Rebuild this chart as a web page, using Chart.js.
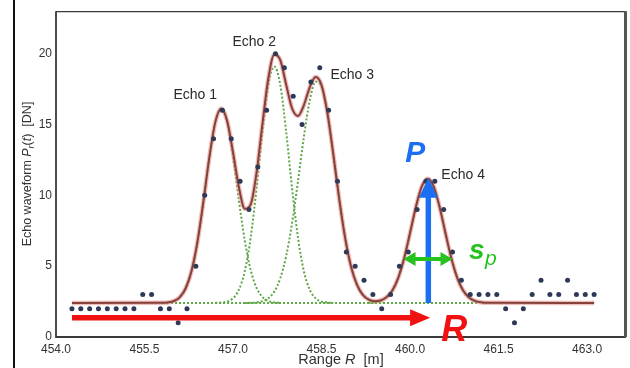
<!DOCTYPE html>
<html>
<head>
<meta charset="utf-8">
<script src="https://cdn.jsdelivr.net/npm/chart.js@4.4.1/dist/chart.umd.min.js"></script>
<style>
  html, body { margin: 0; padding: 0; background: #fff; }
  #wrap { width: 630px; height: 368px; }
</style>
</head>
<body>
<div id="wrap"><canvas id="echoChart" width="630" height="368"></canvas></div>
<script>
// sampled echo waveform (the dots), range in m and amplitude in DN
const sampleRange = [
  454.27, 454.42, 454.57, 454.72, 454.87, 455.02, 455.17, 455.32, 455.47, 455.62,
  455.77, 455.92, 456.07, 456.22, 456.37, 456.52, 456.67, 456.82, 456.97, 457.12,
  457.27, 457.42, 457.57, 457.72, 457.87, 458.02, 458.17, 458.32, 458.47, 458.62,
  458.77, 458.92, 459.07, 459.22, 459.37, 459.52, 459.67, 459.82, 459.97, 460.12,
  460.27, 460.42, 460.57, 460.72, 460.87, 461.02, 461.17, 461.32, 461.47, 461.62,
  461.77, 461.92, 462.07, 462.22, 462.37, 462.52, 462.67, 462.82, 462.97, 463.12
];
const sampleDN = [
  2, 2, 2, 2, 2, 2, 2, 2, 3, 3,
  2, 2, 1, 2, 5, 10, 14, 16, 14, 11,
  9, 12, 16, 20, 19, 17, 15, 18, 19, 16,
  11, 6, 5, 4, 3, 2, 3, 5, 6, 9,
  11, 11, 9, 6, 4, 3, 3, 3, 3, 2,
  1, 2, 3, 4, 3, 3, 4, 3, 3, 3
];

const fitRange = [
  454.27, 455.8, 455.9, 456.0, 456.1, 456.2, 456.3, 456.4, 456.5, 456.6,
  456.7, 456.8, 456.9, 457.0, 457.1, 457.2, 457.3, 457.4, 457.5, 457.6,
  457.7, 457.8, 457.9, 458.0, 458.1, 458.2, 458.3, 458.4, 458.5, 458.6,
  458.7, 458.8, 458.9, 459.0, 459.1, 459.2, 459.3, 459.4, 459.5, 459.6,
  459.7, 459.8, 459.9, 460.0, 460.1, 460.2, 460.3, 460.4, 460.5, 460.6,
  460.7, 460.8, 460.9, 461.0, 461.1, 461.2, 461.3, 463.12
];
const fitDN = [
  2.4, 2.41, 2.44, 2.54, 2.82, 3.46, 4.71, 6.79, 9.62, 12.71,
  15.17, 16.13, 15.26, 13.04, 10.56, 9.05, 9.36, 11.63, 15.08, 18.30,
  19.95, 19.56, 17.83, 16.15, 15.61, 16.36, 17.63, 18.35, 17.78, 15.80,
  12.88, 9.74, 7.00, 4.98, 3.70, 2.98, 2.64, 2.53, 2.58, 2.80,
  3.28, 4.18, 5.56, 7.34, 9.19, 10.63, 11.17, 10.63, 9.19, 7.34,
  5.56, 4.18, 3.28, 2.79, 2.55, 2.45, 2.41, 2.4
];
const echo1DN = [
  null, 2.41, 2.44, 2.54, 2.82, 3.46, 4.71, 6.79, 9.62, 12.71,
  15.16, 16.10, 15.16, 12.71, 9.62, 6.79, 4.71, 3.46, 2.82, 2.54,
  2.44, 2.41, null, null, null, null, null, null, null, null,
  null, null, null, null, null, null, null, null, null, null,
  null, null, null, null, null, null, null, null, null, null,
  null, null, null, null, null, null, null, null
];
const echo2DN = [
  null, null, null, null, null, null, null, null, null, null,
  2.41, 2.43, 2.50, 2.73, 3.34, 4.66, 7.04, 10.53, 14.53, 17.82,
  19.10, 17.82, 14.53, 10.53, 7.04, 4.66, 3.34, 2.73, 2.50, 2.43,
  2.41, null, null, null, null, null, null, null, null, null,
  null, null, null, null, null, null, null, null, null, null,
  null, null, null, null, null, null, null, null
];
const echo3DN = [
  null, null, null, null, null, null, null, null, null, null,
  null, null, null, null, null, 2.40, 2.41, 2.44, 2.53, 2.74,
  3.21, 4.13, 5.70, 8.02, 10.97, 14.10, 16.69, 18.02, 17.68, 15.77,
  12.87, 9.74, 7.00, 4.98, 3.70, 2.98, 2.63, 2.48, 2.43, 2.41,
  null, null, null, null, null, null, null, null, null, null,
  null, null, null, null, null, null, null, null
];
const echo4DN = [
  null, null, null, null, null, null, null, null, null, null,
  null, null, null, null, null, null, null, null, null, null,
  null, null, null, null, null, null, null, null, null, null,
  null, null, null, null, null, null, 2.41, 2.45, 2.55, 2.79,
  3.28, 4.18, 5.56, 7.34, 9.19, 10.63, 11.17, 10.63, 9.19, 7.34,
  5.56, 4.18, 3.28, 2.79, 2.55, 2.45, 2.41, null
];
// common baseline of the echo model
const baseRange = [455.95, 461.15];
const baseDN = [2.4, 2.4];

const xTicks = [454.0, 455.5, 457.0, 458.5, 460.0, 461.5, 463.0];
const yTicks = [0, 5, 10, 15, 20];
const echoNames = ["Echo 1", "Echo 2", "Echo 3", "Echo 4"];

const FONT = "'Liberation Sans', Arial, sans-serif";
Chart.defaults.font.family = FONT;

// label spots for the echo names, in data units (range, DN)
const echoLabelAt = [[456.36, 17.07], [457.36, 20.84], [459.02, 18.47], [460.90, 11.43]];

function toPoints(ys) {
    return fitRange.map((x, i) => ({ x: x, y: ys[i] })).filter(p => p.y !== null);
}

function echoSet(points) {
    return {
        data: points,
        showLine: true,
        pointRadius: 0,
        borderColor: "#5ea646",
        borderWidth: 2,
        borderDash: [2, 2],
        cubicInterpolationMode: "monotone",
        order: 4
    };
}

// draws a filled arrow from (x0,y0) to (x1,y1), optionally with a head at both ends
function arrow(ctx, x0, y0, x1, y1, w, hl, hw, color, both) {
    const len = Math.hypot(x1 - x0, y1 - y0);
    ctx.save();
    ctx.translate(x0, y0);
    ctx.rotate(Math.atan2(y1 - y0, x1 - x0));
    ctx.fillStyle = color;
    ctx.beginPath();
    const s = both ? hl : 0;
    ctx.moveTo(s, -w / 2);
    ctx.lineTo(len - hl, -w / 2);
    ctx.lineTo(len - hl, -hw);
    ctx.lineTo(len, 0);
    ctx.lineTo(len - hl, hw);
    ctx.lineTo(len - hl, w / 2);
    ctx.lineTo(s, w / 2);
    if (both) {
        ctx.lineTo(s, hw);
        ctx.lineTo(0, 0);
        ctx.lineTo(s, -hw);
    }
    ctx.closePath();
    ctx.fill();
    ctx.restore();
}

// draws a run of text pieces [text, font, dy] starting at x
function runText(ctx, parts, x, y) {
    parts.forEach(p => {
        ctx.font = p[1];
        ctx.fillText(p[0], x, y + (p[2] || 0));
        x += ctx.measureText(p[0]).width;
    });
}
function runWidth(ctx, parts) {
    let w = 0;
    parts.forEach(p => { ctx.font = p[1]; w += ctx.measureText(p[0]).width; });
    return w;
}

const annotate = {
    id: "annotate",
    beforeDraw(chart) {
        const ctx = chart.ctx;
        ctx.save();
        ctx.fillStyle = "#fff";
        ctx.fillRect(0, 0, chart.width, chart.height);
        ctx.fillStyle = "#111";
        ctx.fillRect(13, 0, 2, chart.height);
        ctx.restore();
    },
    afterDatasetsDraw(chart) {
        const ctx = chart.ctx;
        const a = chart.chartArea;
        const xs = chart.scales.x, ys = chart.scales.y;
        const px = v => xs.getPixelForValue(v), py = v => ys.getPixelForValue(v);

        // plot frame
        ctx.save();
        ctx.strokeStyle = "#3a3a3a";
        ctx.lineWidth = 1.2;
        ctx.beginPath(); ctx.moveTo(a.left, a.top + 0.5); ctx.lineTo(a.right, a.top + 0.5); ctx.stroke();
        ctx.lineWidth = 1.8;
        ctx.beginPath(); ctx.moveTo(a.left, a.top); ctx.lineTo(a.left, a.bottom); ctx.lineTo(a.right, a.bottom); ctx.stroke();
        ctx.strokeStyle = "#555";
        ctx.lineWidth = 3;
        ctx.beginPath(); ctx.moveTo(a.right - 0.5, a.top); ctx.lineTo(a.right - 0.5, a.bottom); ctx.stroke();

        // echo names
        ctx.fillStyle = "#2a2a2a";
        ctx.font = "14px " + FONT;
        ctx.textAlign = "center";
        ctx.textBaseline = "middle";
        echoNames.forEach((n, i) => ctx.fillText(n, px(echoLabelAt[i][0]), py(echoLabelAt[i][1])));

        // R, P and s_p arrows
        arrow(ctx, px(454.27), py(1.36), px(460.34), py(1.36), 5.5, 20, 8.5, "#f21111", false);
        arrow(ctx, px(460.31), py(2.4), px(460.31), py(11.25), 5.5, 20, 9.5, "#1b6ff0", false);
        arrow(ctx, px(459.89), py(5.5), px(460.72), py(5.5), 4, 12, 7, "#27c21d", true);

        ctx.textAlign = "left";
        ctx.textBaseline = "alphabetic";
        ctx.fillStyle = "#1b6ff0";
        ctx.font = "italic bold 30px " + FONT;
        ctx.fillText("P", px(459.92), py(12.33));
        ctx.fillStyle = "#27c21d";
        ctx.font = "italic bold 28px " + FONT;
        ctx.fillText("s", px(461.0), py(5.5));
        ctx.font = "italic 21px " + FONT;
        ctx.fillText("p", px(461.27), py(5.09));
        ctx.fillStyle = "#f21111";
        ctx.font = "italic bold 36px " + FONT;
        ctx.fillText("R", px(460.53), py(-0.28));
        ctx.restore();
    },
    afterDraw(chart) {
        const ctx = chart.ctx;
        const a = chart.chartArea;
        ctx.save();
        ctx.fillStyle = "#333";
        ctx.textBaseline = "middle";
        ctx.textAlign = "left";

        // x axis title
        const xt = [["Range ", "14.5px " + FONT], ["R", "italic 14.5px " + FONT], ["  [m]", "14.5px " + FONT]];
        runText(ctx, xt, (a.left + a.right) / 2 - runWidth(ctx, xt) / 2, 360);

        // y axis title, rotated
        const yt = [
            ["Echo waveform ", "12.5px " + FONT],
            ["P", "italic 12.5px " + FONT],
            ["r", "italic 9px " + FONT, 3],
            ["(", "12.5px " + FONT],
            ["t", "italic 12.5px " + FONT],
            [")  [DN]", "12.5px " + FONT]
        ];
        ctx.translate(28, 174);
        ctx.rotate(-Math.PI / 2);
        runText(ctx, yt, -runWidth(ctx, yt) / 2, 0);
        ctx.restore();
    }
};

const ctx = document.getElementById("echoChart").getContext("2d");
new Chart(ctx, {
    type: "scatter",
    data: {
        datasets: [
            {
                data: sampleRange.map((x, i) => ({ x: x, y: sampleDN[i] })),
                pointRadius: 2.5,
                pointBackgroundColor: "#2d3957",
                pointBorderWidth: 0,
                showLine: false,
                order: 1
            },
            {
                data: toPoints(fitDN),
                showLine: true,
                pointRadius: 0,
                borderColor: "#86413a",
                borderWidth: 2,
                cubicInterpolationMode: "monotone",
                order: 2
            },
            {
                data: toPoints(fitDN),
                showLine: true,
                pointRadius: 0,
                borderColor: "rgba(228, 145, 140, 0.6)",
                borderWidth: 4.5,
                cubicInterpolationMode: "monotone",
                order: 3
            },
            echoSet(toPoints(echo1DN)),
            echoSet(toPoints(echo2DN)),
            echoSet(toPoints(echo3DN)),
            echoSet(toPoints(echo4DN)),
            echoSet(baseRange.map((x, i) => ({ x: x, y: baseDN[i] })))
        ]
    },
    options: {
        responsive: false,
        animation: false,
        events: [],
        layout: { padding: { top: 7, right: 4, left: 0, bottom: 0 } },
        plugins: {
            legend: { display: false },
            tooltip: { enabled: false }
        },
        scales: {
            x: {
                type: "linear",
                min: 454,
                max: 463.66,
                grid: { display: false, drawTicks: false },
                border: { display: false },
                afterBuildTicks: scale => { scale.ticks = xTicks.map(v => ({ value: v })); },
                afterFit: scale => { scale.height = 31; },
                ticks: {
                    padding: 5,
                    color: "#333",
                    font: { size: 12 },
                    maxRotation: 0,
                    callback: v => v.toFixed(1)
                }
            },
            y: {
                type: "linear",
                min: 0,
                max: 23,
                grid: { display: false, drawTicks: false },
                border: { display: false },
                afterBuildTicks: scale => { scale.ticks = yTicks.map(v => ({ value: v })); },
                afterFit: scale => { scale.width = 56; },
                ticks: {
                    padding: 4,
                    color: "#333",
                    font: { size: 12 },
                    callback: v => String(v)
                }
            }
        }
    },
    plugins: [annotate]
});
</script>
</body>
</html>
